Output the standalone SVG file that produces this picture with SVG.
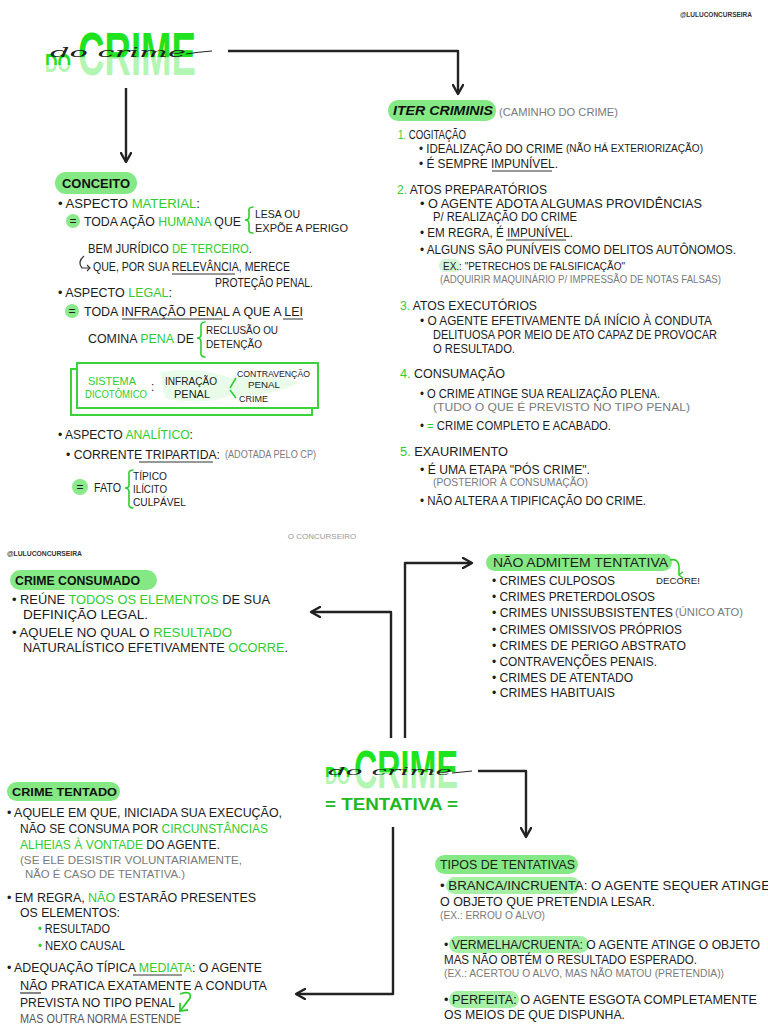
<svg xmlns="http://www.w3.org/2000/svg" width="768" height="1024" viewBox="0 0 768 1024">
<defs>
<style>
text{font-family:"Liberation Sans","DejaVu Sans",sans-serif;}
.t{font-size:12px;fill:#1c1c1c;}
.h{font-size:12.5px;fill:#111;font-weight:bold;}
.s{font-size:10px;fill:#7a7a7a;}
.g{fill:#2fcc2f;}
.pill{fill:#84e984;}
.hl{fill:#a6f0a6;}
.eq{fill:#8ae98a;}
.ul{stroke:#333;stroke-width:1.2;fill:none;}
.br{stroke:#2fcc2f;stroke-width:1.6;fill:none;stroke-linecap:round;}
.conn{stroke:#222;stroke-width:2.4;fill:none;stroke-linejoin:round;}
.wm{font-size:7px;font-weight:bold;fill:#333;}
.cur{font-family:"DejaVu Serif",serif;font-style:italic;font-size:12px;fill:#222;}
</style>
<linearGradient id="tg" x1="0" y1="0" x2="0" y2="1">
<stop offset="0" stop-color="#1fe31f"/>
<stop offset="0.55" stop-color="#1fe31f"/>
<stop offset="0.56" stop-color="#b3f5b3"/>
<stop offset="1" stop-color="#b3f5b3"/>
</linearGradient>
<marker id="ah" viewBox="0 0 12 12" refX="10" refY="6" markerWidth="12" markerHeight="12" markerUnits="userSpaceOnUse" orient="auto">
<path d="M1,1 L10,6 L1,11" fill="none" stroke="#222" stroke-width="2.4" stroke-linecap="round" stroke-linejoin="round"/>
</marker>
<marker id="gah" viewBox="0 0 10 10" refX="5" refY="8" markerWidth="8" markerHeight="8" markerUnits="userSpaceOnUse" orient="auto">
<path d="M1,3 L5,8 L9,3" fill="none" stroke="#2fcc2f" stroke-width="1.6"/>
</marker>
</defs>
<rect width="768" height="1024" fill="#ffffff"/>

<g id="connectors">
<path class="conn" d="M228,51 H458 V94" marker-end="url(#ah)"/>
<path class="conn" d="M126,88 V162" marker-end="url(#ah)"/>
<path class="conn" d="M391,738 V612 H311" marker-end="url(#ah)"/>
<path class="conn" d="M405,738 V563 H472" marker-end="url(#ah)"/>
<path class="conn" d="M393,827 V994 H296" marker-end="url(#ah)"/>
<path class="conn" d="M478,771 H526 V837" marker-end="url(#ah)"/>
</g>

<g id="watermarks">
<text class="wm" x="680" y="17" textLength="72" lengthAdjust="spacingAndGlyphs">@LULUCONCURSEIRA</text>
<text x="322" y="539" text-anchor="middle" style="font-size:8px;fill:#999">O CONCURSEIRO</text>
<text class="wm" x="7" y="556" textLength="75" lengthAdjust="spacingAndGlyphs">@LULUCONCURSEIRA</text>
</g>

<g id="title-do-crime">
<text x="45" y="72" fill="url(#tg)" style="font-size:26px;font-weight:bold" textLength="26" lengthAdjust="spacingAndGlyphs">DO</text>
<text x="78" y="75" fill="url(#tg)" style="font-size:62px;font-weight:bold" textLength="118" lengthAdjust="spacingAndGlyphs">CRIME</text>
<text class="cur" x="50" y="57" textLength="136" lengthAdjust="spacingAndGlyphs">do crime</text>
<path d="M186,54 Q198,52 212,51" stroke="#222" stroke-width="1" fill="none"/>
</g>

<g id="conceito">
<rect class="pill" x="55" y="172" width="82" height="22" rx="11"/>
<text class="h" x="62" y="188" textLength="68" lengthAdjust="spacingAndGlyphs">CONCEITO</text>
<text class="t" x="58" y="208" textLength="142" lengthAdjust="spacingAndGlyphs">• ASPECTO <tspan class="g">MATERIAL</tspan>:</text>
<circle class="eq" cx="73" cy="221" r="7"/>
<text class="t" x="73" y="225" text-anchor="middle">=</text>
<text class="t" x="84" y="226" textLength="157" lengthAdjust="spacingAndGlyphs">TODA AÇÃO <tspan class="g">HUMANA</tspan> QUE</text>
<path class="br" d="M253,207 Q248,207 249,212 L249,217 Q249,220 245,220 Q249,220 249,224 L249,229 Q248,233 253,233"/>
<text class="t" x="255" y="218" style="font-size:11px" textLength="45" lengthAdjust="spacingAndGlyphs">LESA OU</text>
<text class="t" x="255" y="232" style="font-size:11px" textLength="93" lengthAdjust="spacingAndGlyphs">EXPÕE A PERIGO</text>
<text class="t" x="88" y="253" textLength="164" lengthAdjust="spacingAndGlyphs">BEM JURÍDICO <tspan class="g">DE TERCEIRO</tspan>.</text>
<path d="M84,256 Q77,262 82,268 L90,268" stroke="#333" stroke-width="1.2" fill="none"/>
<path d="M87,265 L90,268 L87,271" stroke="#333" stroke-width="1.2" fill="none"/>
<text class="t" x="93" y="271" textLength="197" lengthAdjust="spacingAndGlyphs">QUE, POR SUA RELEVÂNCIA, MERECE</text>
<path class="ul" d="M172,274 H235"/>
<text class="t" x="215" y="287" textLength="98" lengthAdjust="spacingAndGlyphs">PROTEÇÃO PENAL.</text>
<text class="t" x="58" y="297" textLength="114" lengthAdjust="spacingAndGlyphs">• ASPECTO <tspan class="g">LEGAL</tspan>:</text>
<circle class="eq" cx="72" cy="311" r="7"/>
<text class="t" x="72" y="315" text-anchor="middle">=</text>
<text class="t" x="84" y="316" textLength="219" lengthAdjust="spacingAndGlyphs">TODA INFRAÇÃO PENAL A QUE A LEI</text>
<path class="ul" d="M122,319 H222 M283,319 H303"/>
<text class="t" x="88" y="343" textLength="106" lengthAdjust="spacingAndGlyphs">COMINA <tspan class="g">PENA</tspan> DE</text>
<path class="br" d="M205,322 Q200,322 201,328 L201,335 Q201,338 197,338 Q201,338 201,342 L201,351 Q200,357 205,357"/>
<text class="t" x="206" y="334" style="font-size:11px" textLength="72" lengthAdjust="spacingAndGlyphs">RECLUSÃO OU</text>
<text class="t" x="206" y="348" style="font-size:11px" textLength="56" lengthAdjust="spacingAndGlyphs">DETENÇÃO</text>
</g>

<g id="sistema-dicotomico">
<rect x="71" y="369" width="241" height="46" fill="none" stroke="#3ad43a" stroke-width="2"/>
<rect x="77" y="363" width="241" height="45" fill="#ffffff" stroke="#3ad43a" stroke-width="2"/>
<path d="M160,372 Q200,366 230,378 Q260,372 300,382 Q270,398 230,396 Q200,406 165,398 Z" fill="#e9fbe9"/>
<text class="t g" x="88" y="385" style="font-size:11px" textLength="48" lengthAdjust="spacingAndGlyphs">SISTEMA</text>
<text class="t g" x="85" y="398" style="font-size:11px" textLength="62" lengthAdjust="spacingAndGlyphs">DICOTÔMICO</text>
<text class="t" x="151" y="391">:</text>
<text class="t" x="165" y="385" style="font-size:11px" textLength="52" lengthAdjust="spacingAndGlyphs">INFRAÇÃO</text>
<text class="t" x="174" y="398" style="font-size:11px" textLength="36" lengthAdjust="spacingAndGlyphs">PENAL</text>
<path d="M230,388 L236,378 M230,390 L236,398" stroke="#2fcc2f" stroke-width="1.5" fill="none"/>
<text class="t" x="237" y="377" style="font-size:9.5px" textLength="73" lengthAdjust="spacingAndGlyphs">CONTRAVENÇÃO</text>
<text class="t" x="248" y="388" style="font-size:9.5px" textLength="32" lengthAdjust="spacingAndGlyphs">PENAL</text>
<text class="t" x="239" y="402" style="font-size:9.5px" textLength="29" lengthAdjust="spacingAndGlyphs">CRIME</text>
</g>

<g id="aspecto-analitico">
<text class="t" x="58" y="439" textLength="135" lengthAdjust="spacingAndGlyphs">• ASPECTO <tspan class="g">ANALÍTICO</tspan>:</text>
<text class="t" x="66" y="459" textLength="154" lengthAdjust="spacingAndGlyphs">• CORRENTE TRIPARTIDA:</text>
<path class="ul" d="M139,462 H213"/>
<text class="s" x="225" y="458" textLength="91" lengthAdjust="spacingAndGlyphs">(ADOTADA PELO CP)</text>
<circle class="eq" cx="80" cy="487" r="8"/>
<text class="t" x="80" y="491" text-anchor="middle">=</text>
<text class="t" x="94" y="492" textLength="27" lengthAdjust="spacingAndGlyphs">FATO</text>
<path class="br" d="M133,470 Q128,470 129,476 L129,485 Q129,488 125,488 Q129,488 129,492 L129,502 Q128,508 133,508"/>
<text class="t" x="133" y="480" style="font-size:10.5px" textLength="34" lengthAdjust="spacingAndGlyphs">TÍPICO</text>
<text class="t" x="133" y="493" style="font-size:10.5px" textLength="34" lengthAdjust="spacingAndGlyphs">ILÍCITO</text>
<text class="t" x="133" y="506" style="font-size:10.5px" textLength="53" lengthAdjust="spacingAndGlyphs">CULPÁVEL</text>
</g>

<g id="iter-criminis">
<rect class="pill" x="388" y="100" width="108" height="21" rx="10"/>
<text class="h" x="393" y="115" style="font-style:italic" textLength="100" lengthAdjust="spacingAndGlyphs">ITER CRIMINIS</text>
<text class="s" x="499" y="116" style="font-size:10.5px" textLength="119" lengthAdjust="spacingAndGlyphs">(CAMINHO DO CRIME)</text>
<text class="t" x="398" y="139" textLength="68" lengthAdjust="spacingAndGlyphs"><tspan class="g">1.</tspan> COGITAÇÃO</text>
<text class="t" x="419" y="153" textLength="144" lengthAdjust="spacingAndGlyphs">• IDEALIZAÇÃO DO CRIME</text>
<text class="t" x="566" y="152" style="font-size:10px" textLength="137" lengthAdjust="spacingAndGlyphs">(NÃO HÁ EXTERIORIZAÇÃO)</text>
<text class="t" x="419" y="168" textLength="139" lengthAdjust="spacingAndGlyphs">• É SEMPRE IMPUNÍVEL.</text>
<path class="ul" d="M492,171 H552"/>
<text class="t" x="397" y="194" textLength="150" lengthAdjust="spacingAndGlyphs"><tspan class="g">2.</tspan> ATOS PREPARATÓRIOS</text>
<text class="t" x="420" y="208" textLength="282" lengthAdjust="spacingAndGlyphs">• O AGENTE ADOTA ALGUMAS PROVIDÊNCIAS</text>
<text class="t" x="433" y="221" textLength="144" lengthAdjust="spacingAndGlyphs">P/ REALIZAÇÃO DO CRIME</text>
<text class="t" x="420" y="237" textLength="153" lengthAdjust="spacingAndGlyphs">• EM REGRA, É IMPUNÍVEL.</text>
<path class="ul" d="M506,240 H566"/>
<text class="t" x="420" y="254" textLength="316" lengthAdjust="spacingAndGlyphs">• ALGUNS SÃO PUNÍVEIS COMO DELITOS AUTÔNOMOS.</text>
<rect x="439" y="259" width="22" height="13" rx="6" fill="#d4f6d4"/>
<text class="t" x="443" y="270" style="font-size:10.5px" textLength="182" lengthAdjust="spacingAndGlyphs">EX.: "PETRECHOS DE FALSIFICAÇÃO"</text>
<text class="s" x="440" y="283" textLength="281" lengthAdjust="spacingAndGlyphs">(ADQUIRIR MAQUINÁRIO P/ IMPRESSÃO DE NOTAS FALSAS)</text>
<text class="t" x="400" y="310" textLength="137" lengthAdjust="spacingAndGlyphs"><tspan class="g">3.</tspan> ATOS EXECUTÓRIOS</text>
<text class="t" x="420" y="325" textLength="292" lengthAdjust="spacingAndGlyphs">• O AGENTE EFETIVAMENTE DÁ INÍCIO À CONDUTA</text>
<text class="t" x="433" y="339" textLength="284" lengthAdjust="spacingAndGlyphs">DELITUOSA POR MEIO DE ATO CAPAZ DE PROVOCAR</text>
<text class="t" x="433" y="353" textLength="82" lengthAdjust="spacingAndGlyphs">O RESULTADO.</text>
<text class="t" x="400" y="378" textLength="105" lengthAdjust="spacingAndGlyphs"><tspan class="g">4.</tspan> CONSUMAÇÃO</text>
<text class="t" x="420" y="398" textLength="240" lengthAdjust="spacingAndGlyphs">• O CRIME ATINGE SUA REALIZAÇÃO PLENA.</text>
<text class="s" x="433" y="411" style="font-size:10.5px" textLength="257" lengthAdjust="spacingAndGlyphs">(TUDO O QUE É PREVISTO NO TIPO PENAL)</text>
<text class="t" x="420" y="430" textLength="191" lengthAdjust="spacingAndGlyphs">• <tspan class="g">=</tspan> CRIME COMPLETO E ACABADO.</text>
<text class="t" x="400" y="456" textLength="108" lengthAdjust="spacingAndGlyphs"><tspan class="g">5.</tspan> EXAURIMENTO</text>
<text class="t" x="420" y="474" textLength="170" lengthAdjust="spacingAndGlyphs">• É UMA ETAPA "PÓS CRIME".</text>
<text class="s" x="433" y="486" style="font-size:10.5px" textLength="155" lengthAdjust="spacingAndGlyphs">(POSTERIOR À CONSUMAÇÃO)</text>
<text class="t" x="420" y="505" textLength="226" lengthAdjust="spacingAndGlyphs">• NÃO ALTERA A TIPIFICAÇÃO DO CRIME.</text>
</g>

<g id="crime-consumado">
<rect class="pill" x="10" y="570" width="147" height="20" rx="10"/>
<text class="h" x="15" y="585" textLength="125" lengthAdjust="spacingAndGlyphs">CRIME CONSUMADO</text>
<text class="t" x="12" y="604" textLength="258" lengthAdjust="spacingAndGlyphs">• REÚNE <tspan class="g">TODOS OS ELEMENTOS</tspan> DE SUA</text>
<text class="t" x="23" y="619" textLength="125" lengthAdjust="spacingAndGlyphs">DEFINIÇÃO LEGAL.</text>
<text class="t" x="12" y="637" textLength="220" lengthAdjust="spacingAndGlyphs">• AQUELE NO QUAL O <tspan class="g">RESULTADO</tspan></text>
<text class="t" x="23" y="652" textLength="265" lengthAdjust="spacingAndGlyphs">NATURALÍSTICO EFETIVAMENTE <tspan class="g">OCORRE</tspan>.</text>
</g>

<g id="nao-admitem-tentativa">
<rect class="pill" x="486" y="554" width="186" height="17" rx="8.5"/>
<text class="t" x="493" y="567" style="font-size:12px" textLength="175" lengthAdjust="spacingAndGlyphs">NÃO ADMITEM TENTATIVA</text>
<path d="M670,560 Q678,558 679,566 L679,575" stroke="#2fcc2f" stroke-width="1.6" fill="none" marker-end="url(#gah)"/>
<text class="t" x="656" y="584" style="font-size:9px" textLength="44" lengthAdjust="spacingAndGlyphs">DECORE!</text>
<text class="t" x="492" y="585" textLength="123" lengthAdjust="spacingAndGlyphs">• CRIMES CULPOSOS</text>
<text class="t" x="492" y="601" textLength="163" lengthAdjust="spacingAndGlyphs">• CRIMES PRETERDOLOSOS</text>
<text class="t" x="492" y="617" textLength="181" lengthAdjust="spacingAndGlyphs">• CRIMES UNISSUBSISTENTES</text>
<text class="s" x="675" y="616" style="font-size:10.5px" textLength="68" lengthAdjust="spacingAndGlyphs">(ÚNICO ATO)</text>
<text class="t" x="492" y="634" textLength="190" lengthAdjust="spacingAndGlyphs">• CRIMES OMISSIVOS PRÓPRIOS</text>
<text class="t" x="492" y="650" textLength="194" lengthAdjust="spacingAndGlyphs">• CRIMES DE PERIGO ABSTRATO</text>
<text class="t" x="492" y="666" textLength="165" lengthAdjust="spacingAndGlyphs">• CONTRAVENÇÕES PENAIS.</text>
<text class="t" x="492" y="682" textLength="141" lengthAdjust="spacingAndGlyphs">• CRIMES DE ATENTADO</text>
<text class="t" x="492" y="697" textLength="123" lengthAdjust="spacingAndGlyphs">• CRIMES HABITUAIS</text>
</g>

<g id="title-do-crime-tentativa">
<text x="325" y="784" fill="url(#tg)" style="font-size:24px;font-weight:bold" textLength="25" lengthAdjust="spacingAndGlyphs">DO</text>
<text x="354" y="788" fill="url(#tg)" style="font-size:54px;font-weight:bold" textLength="104" lengthAdjust="spacingAndGlyphs">CRIME</text>
<text class="cur" x="328" y="775" style="font-size:11px" textLength="124" lengthAdjust="spacingAndGlyphs">do crime</text>
<path d="M452,773 Q462,772 472,771" stroke="#222" stroke-width="1" fill="none"/>
<text x="325" y="810" style="font-size:16px;font-weight:bold;fill:#22b822" textLength="133" lengthAdjust="spacingAndGlyphs">= TENTATIVA =</text>
</g>

<g id="crime-tentado">
<rect class="pill" x="7" y="782" width="113" height="19" rx="9.5"/>
<text class="h" x="12" y="796" style="font-size:11.5px" textLength="105" lengthAdjust="spacingAndGlyphs">CRIME TENTADO</text>
<text class="t" x="7" y="817" textLength="275" lengthAdjust="spacingAndGlyphs">• AQUELE EM QUE, INICIADA SUA EXECUÇÃO,</text>
<text class="t" x="20" y="833" textLength="248" lengthAdjust="spacingAndGlyphs">NÃO SE CONSUMA POR <tspan class="g">CIRCUNSTÂNCIAS</tspan></text>
<text class="t" x="20" y="849" textLength="200" lengthAdjust="spacingAndGlyphs"><tspan class="g">ALHEIAS À VONTADE</tspan> DO AGENTE.</text>
<text class="s" x="20" y="864" style="font-size:10.5px" textLength="222" lengthAdjust="spacingAndGlyphs">(SE ELE DESISTIR VOLUNTARIAMENTE,</text>
<text class="s" x="25" y="878" style="font-size:10.5px" textLength="160" lengthAdjust="spacingAndGlyphs">NÃO É CASO DE TENTATIVA.)</text>
<text class="t" x="7" y="902" textLength="249" lengthAdjust="spacingAndGlyphs">• EM REGRA, <tspan class="g">NÃO</tspan> ESTARÃO PRESENTES</text>
<text class="t" x="20" y="917" textLength="100" lengthAdjust="spacingAndGlyphs">OS ELEMENTOS:</text>
<text class="t" x="38" y="933" textLength="72" lengthAdjust="spacingAndGlyphs"><tspan class="g">•</tspan> RESULTADO</text>
<text class="t" x="38" y="950" textLength="87" lengthAdjust="spacingAndGlyphs"><tspan class="g">•</tspan> NEXO CAUSAL</text>
<text class="t" x="7" y="972" textLength="255" lengthAdjust="spacingAndGlyphs">• ADEQUAÇÃO TÍPICA <tspan class="g">MEDIATA</tspan>: O AGENTE</text>
<path class="ul" d="M133,975 H182"/>
<text class="t" x="20" y="990" textLength="247" lengthAdjust="spacingAndGlyphs">NÃO PRATICA EXATAMENTE A CONDUTA</text>
<path class="ul" d="M20,993 H41"/>
<text class="t" x="20" y="1007" textLength="155" lengthAdjust="spacingAndGlyphs">PREVISTA NO TIPO PENAL</text>
<path d="M180,994 Q192,990 190,998 L181,1010" stroke="#2fcc2f" stroke-width="1.8" fill="none"/>
<path d="M180,1003 L180,1011 L188,1010" stroke="#2fcc2f" stroke-width="1.8" fill="none"/>
<text class="t" x="20" y="1023" style="fill:#555" textLength="161" lengthAdjust="spacingAndGlyphs">MAS OUTRA NORMA ESTENDE</text>
</g>

<g id="tipos-de-tentativas">
<rect class="pill" x="435" y="855" width="143" height="19" rx="9.5"/>
<text class="t" x="440" y="869" textLength="135" lengthAdjust="spacingAndGlyphs">TIPOS DE TENTATIVAS</text>
<rect class="hl" x="446" y="877" width="134" height="17" rx="8.5"/>
<text class="t" x="440" y="890" textLength="330" lengthAdjust="spacingAndGlyphs">• BRANCA/INCRUENTA: O AGENTE SEQUER ATINGE</text>
<text class="t" x="440" y="906" textLength="215" lengthAdjust="spacingAndGlyphs">O OBJETO QUE PRETENDIA LESAR.</text>
<text class="s" x="440" y="919" textLength="105" lengthAdjust="spacingAndGlyphs">(EX.: ERROU O ALVO)</text>
<rect class="hl" x="449" y="936" width="140" height="17" rx="8.5"/>
<text class="t" x="444" y="949" textLength="316" lengthAdjust="spacingAndGlyphs">• VERMELHA/CRUENTA: O AGENTE ATINGE O OBJETO</text>
<text class="t" x="444" y="964" textLength="253" lengthAdjust="spacingAndGlyphs">MAS NÃO OBTÉM O RESULTADO ESPERADO.</text>
<text class="s" x="444" y="977" textLength="280" lengthAdjust="spacingAndGlyphs">(EX.: ACERTOU O ALVO, MAS NÃO MATOU (PRETENDIA))</text>
<rect class="hl" x="449" y="991" width="70" height="17" rx="8.5"/>
<text class="t" x="444" y="1004" textLength="313" lengthAdjust="spacingAndGlyphs">• PERFEITA: O AGENTE ESGOTA COMPLETAMENTE</text>
<text class="t" x="444" y="1019" textLength="181" lengthAdjust="spacingAndGlyphs">OS MEIOS DE QUE DISPUNHA.</text>
</g>
</svg>
